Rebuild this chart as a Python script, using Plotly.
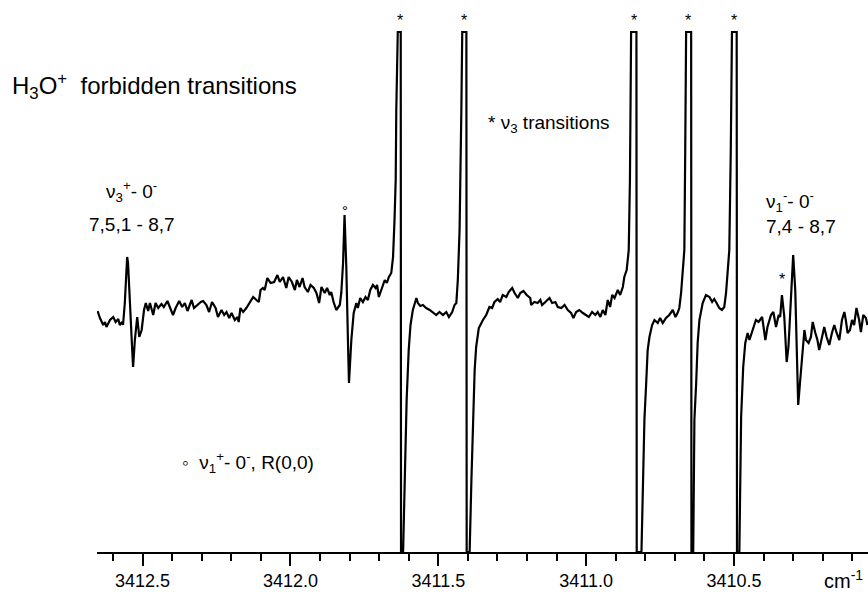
import plotly.graph_objects as go

# ---- spectrum data (wavenumber in cm^-1, signal in arbitrary units) ----
seg1_wn = [3412.652, 3412.644, 3412.633, 3412.627, 3412.622, 3412.610, 3412.599, 3412.591, 3412.582, 3412.577,
           3412.569, 3412.566, 3412.560, 3412.552, 3412.549, 3412.543, 3412.535, 3412.532, 3412.526, 3412.518,
           3412.511, 3412.503, 3412.495, 3412.489, 3412.481, 3412.475, 3412.464, 3412.456, 3412.447, 3412.436,
           3412.428, 3412.416, 3412.408, 3412.397, 3412.388, 3412.376, 3412.366, 3412.357, 3412.348, 3412.334,
           3412.326, 3412.314, 3412.303, 3412.295, 3412.284, 3412.275, 3412.265, 3412.253, 3412.245, 3412.233,
           3412.224, 3412.216, 3412.207, 3412.199, 3412.188, 3412.179, 3412.175, 3412.169, 3412.160, 3412.149,
           3412.138, 3412.126, 3412.115, 3412.107, 3412.101, 3412.093, 3412.087, 3412.078, 3412.067, 3412.055,
           3412.044, 3412.036, 3412.025, 3412.014, 3412.006, 3411.995]
seg1_sig = [-1, -8, -15, -12, -17, -10, -7, -12, -9, -15,
            -12, -15, 7, 53, 47, 3, -40, -57, -30, -7,
            -27, -20, 0, 7, -1, 7, -5, 7, 2, 6,
            3, 9, 3, -5, 2, 9, 3, 7, -1, 10,
            2, 5, 8, 9, 5, -2, 8, 2, -7, 0,
            -5, -2, -8, -3, -10, -7, -12, 2, -2, 2,
            8, 13, 10, 8, 20, 22, 20, 32, 27, 28,
            35, 28, 33, 22, 33, 28]

seg2_wn = [3411.985, 3411.978, 3411.969, 3411.959, 3411.952, 3411.941, 3411.932, 3411.921, 3411.912, 3411.903,
           3411.895, 3411.884, 3411.876, 3411.867, 3411.862, 3411.854, 3411.845, 3411.833, 3411.828, 3411.822,
           3411.817, 3411.811, 3411.805, 3411.802, 3411.794, 3411.786, 3411.777, 3411.772, 3411.764, 3411.755,
           3411.746, 3411.738, 3411.730, 3411.721, 3411.712, 3411.707, 3411.701, 3411.693, 3411.681, 3411.674,
           3411.667, 3411.659, 3411.653, 3411.648, 3411.644, 3411.642, 3411.637, 3411.627, 3411.626, 3411.619,
           3411.614, 3411.607, 3411.600, 3411.594, 3411.586, 3411.574, 3411.569, 3411.561, 3411.552, 3411.541,
           3411.529, 3411.518, 3411.507, 3411.496, 3411.484, 3411.473, 3411.464, 3411.453, 3411.445, 3411.439,
           3411.434, 3411.428, 3411.425, 3411.422, 3411.419, 3411.405]
seg2_sig = [20, 30, 23, 32, 23, 18, 25, 22, 17, 7,
            23, 17, 22, 15, 18, 8, 0, 5, 17, 47,
            95, 43, -37, -73, -30, -3, 7, 2, 12, 8,
            13, 10, 20, 25, 22, 25, 13, 20, 30, 27,
            33, 37, 53, 90, 130, 200, 278, 278, -242, -242,
            -170, -90, -40, -15, 0, 12, 7, 4, 5, 2,
            0, -3, -5, -2, -5, -2, -7, -2, 5, 7,
            30, 80, 130, 200, 278, 278]

seg3_wn = [3411.404, 3411.394, 3411.388, 3411.377, 3411.372, 3411.363, 3411.349, 3411.338, 3411.327, 3411.318,
           3411.310, 3411.299, 3411.291, 3411.282, 3411.270, 3411.262, 3411.250, 3411.242, 3411.231, 3411.223,
           3411.212, 3411.201, 3411.189, 3411.186, 3411.175, 3411.164, 3411.155, 3411.149, 3411.138, 3411.124,
           3411.115, 3411.104, 3411.096, 3411.084, 3411.073, 3411.062, 3411.051, 3411.043, 3411.034, 3411.023,
           3411.011, 3411.000, 3410.991, 3410.980, 3410.969, 3410.961, 3410.952, 3410.944, 3410.935, 3410.927,
           3410.919, 3410.912, 3410.904, 3410.893, 3410.885, 3410.876, 3410.871, 3410.863, 3410.856, 3410.852,
           3410.848, 3410.830, 3410.829, 3410.813, 3410.803, 3410.797, 3410.792, 3410.786, 3410.777, 3410.769,
           3410.758, 3410.750, 3410.741, 3410.730, 3410.719, 3410.707, 3410.698, 3410.691, 3410.685, 3410.679,
           3410.674, 3410.668, 3410.665, 3410.662, 3410.645]
seg3_sig = [-242, -242, -170, -60, -37, -18, -10, -5, 3, 2,
            8, 11, 8, 15, 13, 18, 22, 17, 12, 17,
            19, 15, 12, 5, 8, 7, 10, 5, 8, 12,
            7, 8, 3, 2, 5, 0, -3, -8, -2, 0,
            -3, -5, -7, -2, -5, -2, -7, 0, -5, 10,
            3, 15, 12, 20, 15, 23, 33, 40, 60, 130,
            278, 278, -242, -242, -110, -73, -40, -27, -15, -10,
            -13, -8, -13, -8, -5, 0, -7, -3, 2, 17,
            40, 60, 160, 278, 278]

seg4_wn = [3410.644, 3410.638, 3410.634, 3410.628, 3410.623, 3410.617, 3410.606, 3410.595, 3410.583, 3410.574,
           3410.567, 3410.559, 3410.550, 3410.541, 3410.533, 3410.527, 3410.522, 3410.516, 3410.511, 3410.507,
           3410.491, 3410.490, 3410.482, 3410.476, 3410.469, 3410.462, 3410.454, 3410.448, 3410.437, 3410.426,
           3410.417, 3410.405, 3410.394, 3410.387, 3410.375, 3410.367, 3410.358, 3410.349, 3410.344, 3410.338,
           3410.330, 3410.322, 3410.316, 3410.307, 3410.300, 3410.293, 3410.289, 3410.283, 3410.277, 3410.270,
           3410.262, 3410.257, 3410.248, 3410.240, 3410.234, 3410.225, 3410.218, 3410.212, 3410.203, 3410.195,
           3410.187, 3410.178, 3410.169, 3410.161, 3410.153, 3410.144, 3410.135, 3410.127, 3410.122, 3410.116,
           3410.108, 3410.101, 3410.094, 3410.086, 3410.077, 3410.071, 3410.063, 3410.054, 3410.049]
seg4_sig = [-242, -242, -110, -73, -33, -10, 7, 15, 13, 8,
            11, 7, 2, 0, 3, 17, 40, 60, 160, 278,
            278, -242, -242, -107, -57, -33, -23, -30, -20, -10,
            -12, -7, -30, -17, -5, -2, -17, -5, -7, 15,
            -7, -52, -37, 10, 55, 20, -40, -95, -73, -47,
            -20, -30, -33, -27, -12, -23, -30, -40, -27, -17,
            -27, -35, -23, -15, -23, -30, -10, -2, -10, -23,
            -20, -10, -15, 2, -10, -22, -5, -8, -15]

# marked line positions (cm^-1)
nu3_lines = [3411.631, 3411.414, 3410.837, 3410.654, 3410.499]
nu3_weak_line = 3410.338
nu1_r00_line = 3411.817
tick_values = [3412.5, 3412.0, 3411.5, 3411.0, 3410.5]

wn = seg1_wn + seg2_wn + seg3_wn + seg4_wn
sig = seg1_sig + seg2_sig + seg3_sig + seg4_sig

FONT = "Liberation Sans, Arial, Helvetica, sans-serif"

fig = go.Figure()
fig.add_trace(go.Scatter(x=wn, y=sig, mode="lines",
                         line=dict(color="black", width=2.2),
                         hoverinfo="skip", showlegend=False))

ann = []
def add(text, x, y, size, xanchor="left", xref="x", yref="y"):
    ann.append(dict(text=text, x=x, y=y, xref=xref, yref=yref, showarrow=False,
                    xanchor=xanchor, yanchor="middle",
                    font=dict(family=FONT, size=size, color="black")))

add("H<sub>3</sub>O<sup>+</sup>  forbidden transitions", (10 - 97) / 771, (552 - 86) / 552, 24,
    xref="paper", yref="paper")
add("* ν<sub>3</sub> transitions", 3411.338, 186, 19)
add("ν<sub>3</sub><sup>+</sup>- 0<sup>-</sup>", 3412.536, 119, 19, xanchor="center")
add("7,5,1 - 8,7", 3412.536, 86, 19, xanchor="center")
add("ν<sub>1</sub><sup>-</sup>- 0<sup>-</sup>", 3410.398, 109, 19)
add("7,4 - 8,7", 3410.400, 84, 19)
add("◦  ν<sub>1</sub><sup>+</sup>- 0<sup>-</sup>, R(0,0)", 3412.374, -152, 19)
add("cm<sup>-1</sup>", (822 - 97) / 771, -0.05, 20, xref="paper", yref="paper")
for x in nu3_lines:
    add("*", x, 290, 16, xanchor="center")
add("*", nu3_weak_line, 31, 16, xanchor="center")
add("°", nu1_r00_line, 100, 15, xanchor="center")

fig.update_layout(
    width=868, height=594,
    margin=dict(l=97, r=0, t=0, b=42, pad=0),
    paper_bgcolor="white", plot_bgcolor="white",
    annotations=ann,
    xaxis=dict(range=[3412.654, 3410.047], showline=True, linecolor="black", linewidth=1.5,
               ticks="outside", ticklen=12, tickwidth=1.5, tickcolor="black",
               tickvals=tick_values, tickformat=".1f", ticklabelstandoff=0,
               tickfont=dict(family=FONT, size=18, color="black"),
               minor=dict(dtick=0.1, tick0=3410.0, ticks="outside", ticklen=7, tickwidth=1.5,
                          tickcolor="black", showgrid=False),
               showgrid=False, zeroline=False, automargin=False),
    yaxis=dict(range=[-242, 310], visible=False, automargin=False),
)

fig.write_html("out.html")
